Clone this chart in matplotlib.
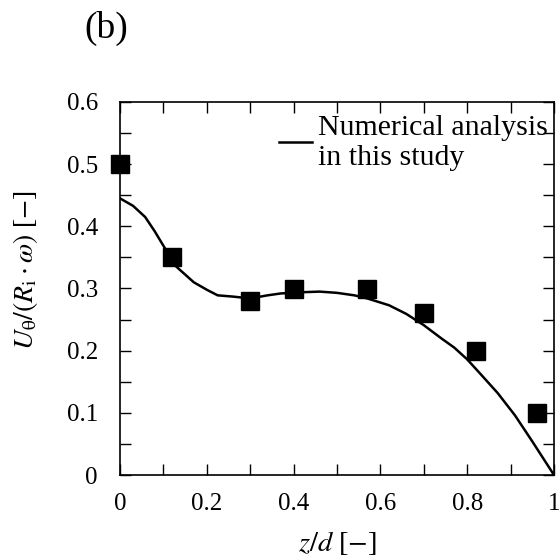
"""Tangential velocity profile along the gap: experiment vs numerical analysis."""

import matplotlib
matplotlib.use("Agg")
import matplotlib.pyplot as plt
from matplotlib.ticker import MultipleLocator

plt.rcParams["font.family"] = ["Liberation Serif", "DejaVu Serif"]
plt.rcParams["mathtext.fontset"] = "stix"
plt.rcParams["font.size"] = 18

# measured points
z_exp = [0.0, 0.12, 0.30, 0.40, 0.57, 0.70, 0.82, 0.96]
u_exp = [0.50, 0.35, 0.28, 0.30, 0.30, 0.26, 0.20, 0.10]

# numerical analysis
z_num = [0.0, 0.03, 0.058, 0.08, 0.105, 0.13, 0.17, 0.20, 0.225, 0.26, 0.30,
         0.34, 0.37, 0.42, 0.46, 0.50, 0.54, 0.57, 0.62, 0.66, 0.70, 0.74,
         0.77, 0.80, 0.83, 0.87, 0.91, 0.95, 1.0]
u_num = [0.445, 0.433, 0.415, 0.392, 0.363, 0.335, 0.310, 0.298, 0.289, 0.287,
         0.284, 0.289, 0.292, 0.294, 0.295, 0.293, 0.289, 0.284, 0.273, 0.259,
         0.241, 0.220, 0.205, 0.186, 0.163, 0.132, 0.096, 0.054, 0.0]


def tick_fmt(v, pos):
    # plain "0" and "1" at the ends, one decimal elsewhere
    s = f"{v:.1f}"
    return s[0] if s in ("0.0", "1.0") else s


W, H = 559, 558
fig = plt.figure(figsize=(W / 100, H / 100), dpi=100)
ax = fig.add_axes([120 / W, 1 - 475 / H, 434 / W, 373 / H])

ax.plot(z_num, u_num, color="black", linewidth=1.8,
        label="Numerical analysis\nin this study")
ax.plot(z_exp, u_exp, linestyle="none", marker="s", markersize=13,
        color="black", clip_on=False)

ax.set_xlim(0, 1)
ax.set_ylim(0, 0.6)
ax.xaxis.set_major_locator(MultipleLocator(0.2))
ax.xaxis.set_minor_locator(MultipleLocator(0.1))
ax.yaxis.set_major_locator(MultipleLocator(0.1))
ax.yaxis.set_minor_locator(MultipleLocator(0.05))
ax.xaxis.set_major_formatter(tick_fmt)
ax.yaxis.set_major_formatter(tick_fmt)
ax.tick_params(which="both", direction="in", top=True, right=True,
               labelsize=18, width=1.0, length=8)
ax.tick_params(axis="x", which="major", pad=13)
ax.tick_params(axis="y", which="major", pad=16)
for sp in ax.spines.values():
    sp.set_linewidth(1.2)

ax.set_xlabel(r"$z/d$ [$-$]", fontsize=20.5, va="center")
ax.xaxis.set_label_coords(0.5, (475 - 543) / 373)
ax.set_ylabel(r"$U_\mathrm{\theta}/(R_\mathrm{i}\cdot\omega)$ [$-$]",
              fontsize=20, va="center")
ax.yaxis.set_label_coords((26 - 120) / 434, (475 - 270) / 373)

ax.legend(loc="upper right", bbox_to_anchor=(1.0, 0.982), frameon=False,
          fontsize=21.5, handlelength=1.1, handletextpad=0.2,
          borderaxespad=0.1, borderpad=0.1)

fig.text(106 / W, 1 - 28 / H, "(b)", fontsize=27, ha="center", va="center")

fig.savefig("out.png", dpi=100)
